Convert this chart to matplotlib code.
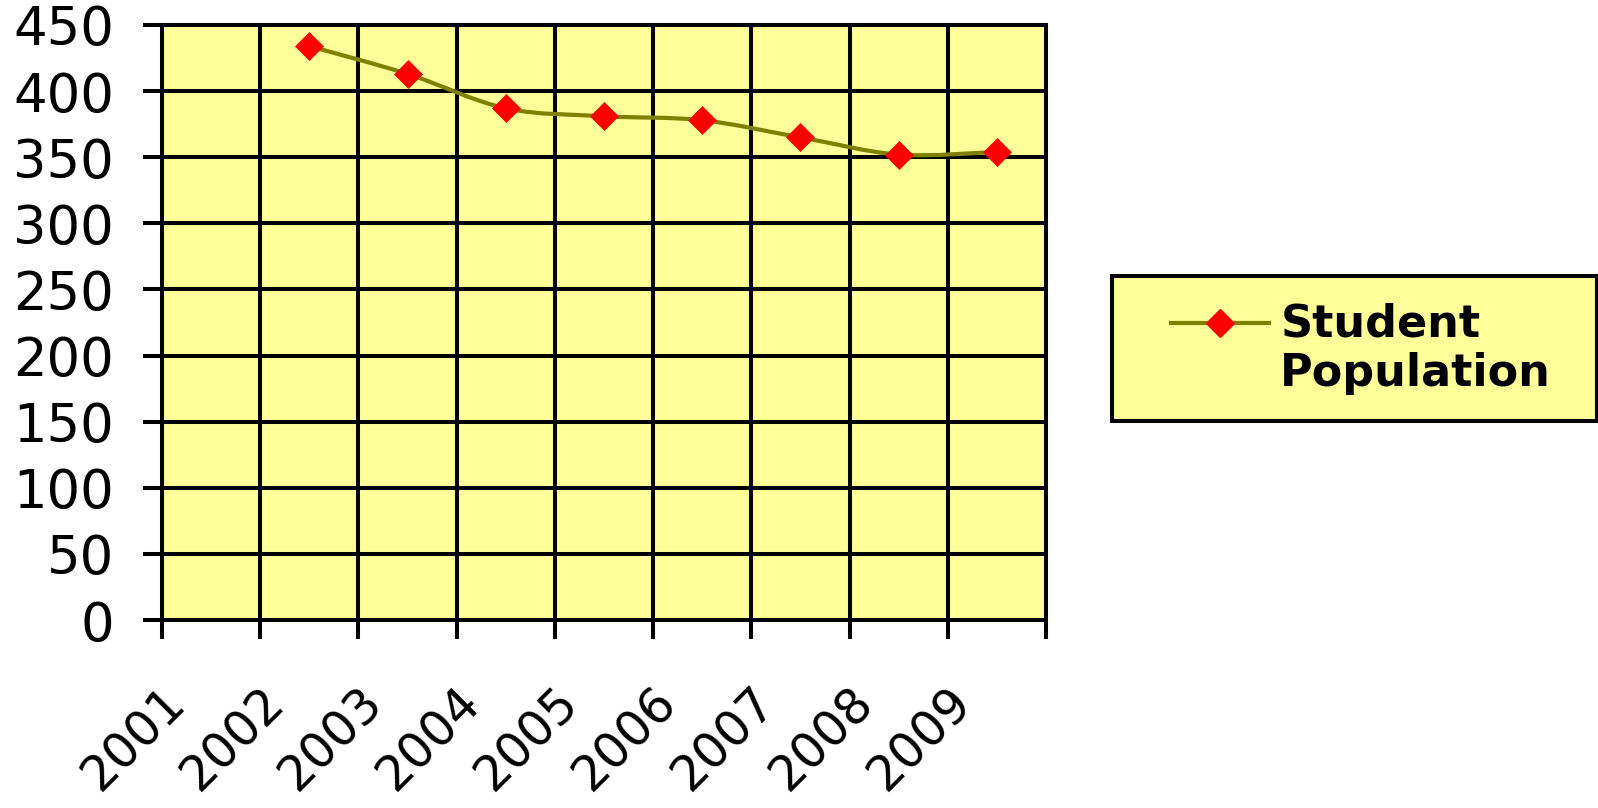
import matplotlib
matplotlib.use("Agg")
import matplotlib.pyplot as plt
import numpy as np
from matplotlib.path import Path
from matplotlib.patches import PathPatch, Rectangle
from matplotlib.lines import Line2D
from matplotlib.legend_handler import HandlerLine2D
import matplotlib.transforms as mtransforms

# ---- data ----
years = ["2001", "2002", "2003", "2004", "2005", "2006", "2007", "2008", "2009"]
population = [None, 434, 413, 387, 381, 378, 365, 352, 354]
series_name = "Student\nPopulation"
y_ticks = [0, 50, 100, 150, 200, 250, 300, 350, 400, 450]

# ---- style ----
PLOT_BG = "#FFFF99"
LINE_C = "#808000"
MARK_C = "#FF0000"
LW = 2.9

plt.rcParams['font.family'] = ['DejaVu Sans']

W, H = 1598, 808
fig = plt.figure(figsize=(W / 100, H / 100), dpi=100)
fig.patch.set_facecolor("white")
ax = fig.add_axes([162 / W, 1 - 620 / H, (1046 - 162) / W, (620 - 25) / H])
ax.set_facecolor(PLOT_BG)

n = len(years)
ax.set_xlim(0, n)
ax.set_ylim(0, 450)

# points (category centres)
pts = [(i + 0.5, v) for i, v in enumerate(population) if v is not None]
xs = np.array([p[0] for p in pts])
ys = np.array([p[1] for p in pts])

# smoothed line (Catmull-Rom -> cubic Bezier), as Excel does
verts = [(xs[0], ys[0])]
codes = [Path.MOVETO]
m = len(xs)
for i in range(m - 1):
    p0 = np.array([xs[max(i - 1, 0)], ys[max(i - 1, 0)]])
    p1 = np.array([xs[i], ys[i]])
    p2 = np.array([xs[i + 1], ys[i + 1]])
    p3 = np.array([xs[min(i + 2, m - 1)], ys[min(i + 2, m - 1)]])
    c1 = p1 + (p2 - p0) / 6.0
    c2 = p2 - (p3 - p1) / 6.0
    verts += [tuple(c1), tuple(c2), tuple(p2)]
    codes += [Path.CURVE4] * 3
ax.add_patch(PathPatch(Path(verts, codes), facecolor="none", edgecolor=LINE_C,
                       lw=3.0, zorder=3, capstyle="round", joinstyle="round"))
ax.plot(xs, ys, linestyle="none", marker="D", markersize=14.2,
        markerfacecolor=MARK_C, markeredgecolor=MARK_C, markeredgewidth=0.5,
        zorder=4)

# grid & ticks
ax.set_xticks(np.arange(0, n + 1))
ax.set_xticklabels([])
ax.set_xticks(np.arange(n) + 0.5, minor=True)
ax.set_xticklabels(years, minor=True, rotation=45, ha="right", va="top",
                   fontsize=35)
ax.set_yticks(y_ticks)
ax.set_yticklabels([str(t) for t in y_ticks], fontsize=38)
ax.grid(True, which="major", color="black", lw=LW, zorder=1)
ax.set_axisbelow(True)
ax.tick_params(axis="both", which="major", direction="out", length=13.7,
               width=LW, color="black")
ax.tick_params(axis="y", which="major", pad=21)
ax.tick_params(axis="x", which="minor", length=0, pad=42)
for lab in ax.get_xticklabels(minor=True):
    lab.set_transform(lab.get_transform() +
                      mtransforms.ScaledTranslation(-16 / 100, 0, fig.dpi_scale_trans))
for s in ax.spines.values():
    s.set_linewidth(LW)
    s.set_color("black")


class HandlerUp(HandlerLine2D):
    """Legend handle aligned with the first line of a two-line label."""
    def create_artists(self, legend, orig_handle, xdescent, ydescent,
                       width, height, fontsize, trans):
        arts = super().create_artists(legend, orig_handle, xdescent, ydescent,
                                      width, height, fontsize, trans)
        for a in arts:
            a.set_ydata(np.asarray(a.get_ydata()) + 0.62 * fontsize)
        return arts


# legend box
fig.patches.append(Rectangle((1112 / W, 1 - 421 / H), (1597 - 1112) / W, 145 / H,
                             transform=fig.transFigure, facecolor=PLOT_BG,
                             edgecolor="black", lw=LW, zorder=0))
handle = Line2D([], [], color=LINE_C, lw=3.0, marker="D", markersize=14,
                markerfacecolor=MARK_C, markeredgecolor=MARK_C)
leg = fig.legend([handle], [series_name], loc="center left",
                 bbox_to_anchor=(1171 / W, 1 - 349 / H), frameon=False,
                 borderpad=0, borderaxespad=0, handlelength=2.2,
                 handletextpad=0.26, prop={"size": 32, "weight": "bold"},
                 handler_map={Line2D: HandlerUp()})

fig.savefig("out.png", dpi=100)
